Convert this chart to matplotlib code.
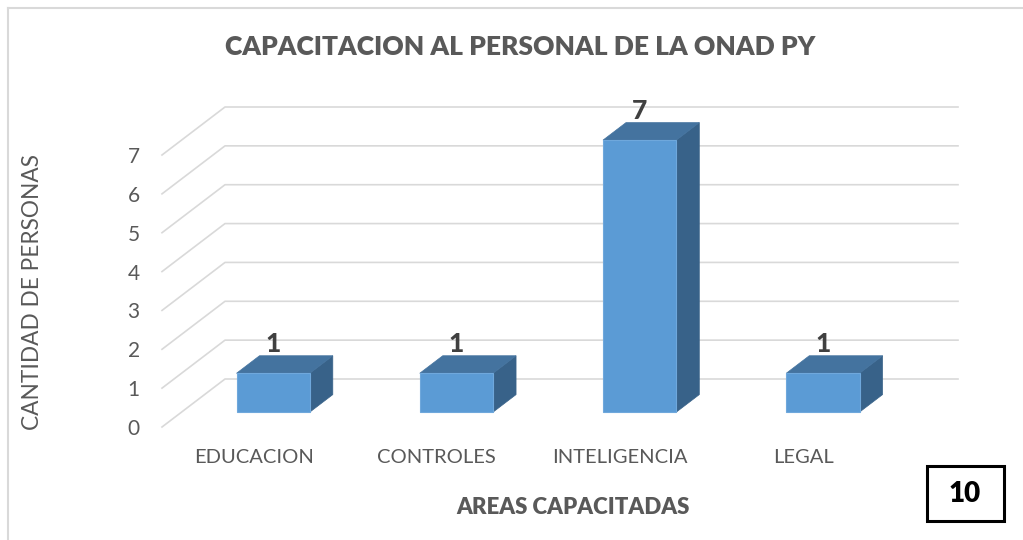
import matplotlib
matplotlib.use("Agg")
import matplotlib.pyplot as plt
from matplotlib.patches import Polygon, Rectangle
from matplotlib.lines import Line2D
from matplotlib.transforms import IdentityTransform
import numpy as np

# data
categories = ["EDUCACION", "CONTROLES", "INTELIGENCIA", "LEGAL"]
personas = [1, 1, 7, 1]
y_ticks = [0, 1, 2, 3, 4, 5, 6, 7]

title = "CAPACITACION AL PERSONAL DE LA ONAD PY"
x_title = "AREAS CAPACITADAS"
y_title = "CANTIDAD DE PERSONAS"
page_number = "10"

plt.rcParams['font.family'] = ['Lato', 'DejaVu Sans']
gray = "#595959"

W, H = 1023, 540
fig = plt.figure(figsize=(W / 100, H / 100), dpi=100)
fig.patch.set_facecolor("white")

# front plane of the 3d box
ax = fig.add_axes([162 / W, (H - 427) / H, 733 / W, 272 / H])
ax.set_xlim(-0.5, 3.5)
ax.set_ylim(0, 7)
for s in ax.spines.values():
    s.set_visible(False)
ax.patch.set_visible(False)
ax.set_xticks(range(len(categories)), categories)
ax.set_yticks(y_ticks, [str(v) for v in y_ticks])
ax.tick_params(axis="y", length=0, pad=16, labelsize=15, labelcolor=gray)
ax.tick_params(axis="x", length=0, pad=16, labelsize=14.5, labelcolor=gray)

depth = np.array([63.0, 48.0])   # full depth of the box, in pixels
d_front, d_back = 0.31, 0.675    # where the bars sit in depth
bar_w = 0.4


def disp(x, y, d=0.0):
    return ax.transData.transform((x, y)) + d * depth


ident = IdentityTransform()

# gridlines: side wall diagonal + back wall line
for v in y_ticks:
    p0 = disp(-0.5, v)
    p1 = disp(-0.5, v, 1)
    p2 = disp(3.5, v, 1)
    ax.add_line(Line2D([p0[0], p1[0], p2[0]], [p0[1], p1[1], p2[1]],
                       transform=ident, color="#D9D9D9", lw=1.2, clip_on=False, zorder=1))

# bars
for i, h in enumerate(personas):
    x0, x1 = i - bar_w / 2, i + bar_w / 2
    fb0, fb1 = disp(x0, 0, d_front), disp(x1, 0, d_front)
    ft0, ft1 = disp(x0, h, d_front), disp(x1, h, d_front)
    bb1 = disp(x1, 0, d_back)
    bt0, bt1 = disp(x0, h, d_back), disp(x1, h, d_back)
    side = Polygon([fb1, bb1, bt1, ft1], closed=True, transform=ident,
                   facecolor="#386289", edgecolor="#386289", lw=0.5, clip_on=False, zorder=3)
    top = Polygon([ft0, ft1, bt1, bt0], closed=True, transform=ident,
                  facecolor="#44739F", edgecolor="#44739F", lw=0.5, clip_on=False, zorder=3)
    front = Polygon([fb0, fb1, ft1, ft0], closed=True, transform=ident,
                    facecolor="#5B9BD5", edgecolor="#6FA8DC", lw=0.8, clip_on=False, zorder=4)
    for p in (side, top, front):
        ax.add_patch(p)
    ax.text((fb0[0] + fb1[0]) / 2, bt0[1] + 12, str(h), transform=ident,
            ha="center", va="center", fontsize=19, fontweight="black", color="#404040", zorder=5)

# texts
fig.text(520 / W, 1 - 47 / H, title, ha="center", va="center",
         fontsize=19, fontweight="heavy", color=gray)
fig.text(573 / W, 1 - 508 / H, x_title, ha="center", va="center",
         fontsize=16, fontweight="heavy", color=gray)
fig.text(33 / W, 1 - 292 / H, y_title, ha="center", va="center", rotation=90,
         fontsize=16.3, color=gray)

# page number box
fig.add_artist(Rectangle((927 / W, 1 - 521 / H), 77 / W, 55 / H, transform=fig.transFigure,
                         facecolor="white", edgecolor="black", lw=2.2))
fig.text(965 / W, 1 - 494 / H, page_number, ha="center", va="center",
         fontsize=20, fontweight="heavy", color="black")

# outer border (top and left only)
fig.add_artist(Line2D([7.5 / W, 1], [1 - 8 / H, 1 - 8 / H], transform=fig.transFigure,
                      color="#D9D9D9", lw=1.5))
fig.add_artist(Line2D([7.5 / W, 7.5 / W], [0, 1 - 8 / H], transform=fig.transFigure,
                      color="#D9D9D9", lw=1.5))

fig.savefig("out.png", dpi=100)
